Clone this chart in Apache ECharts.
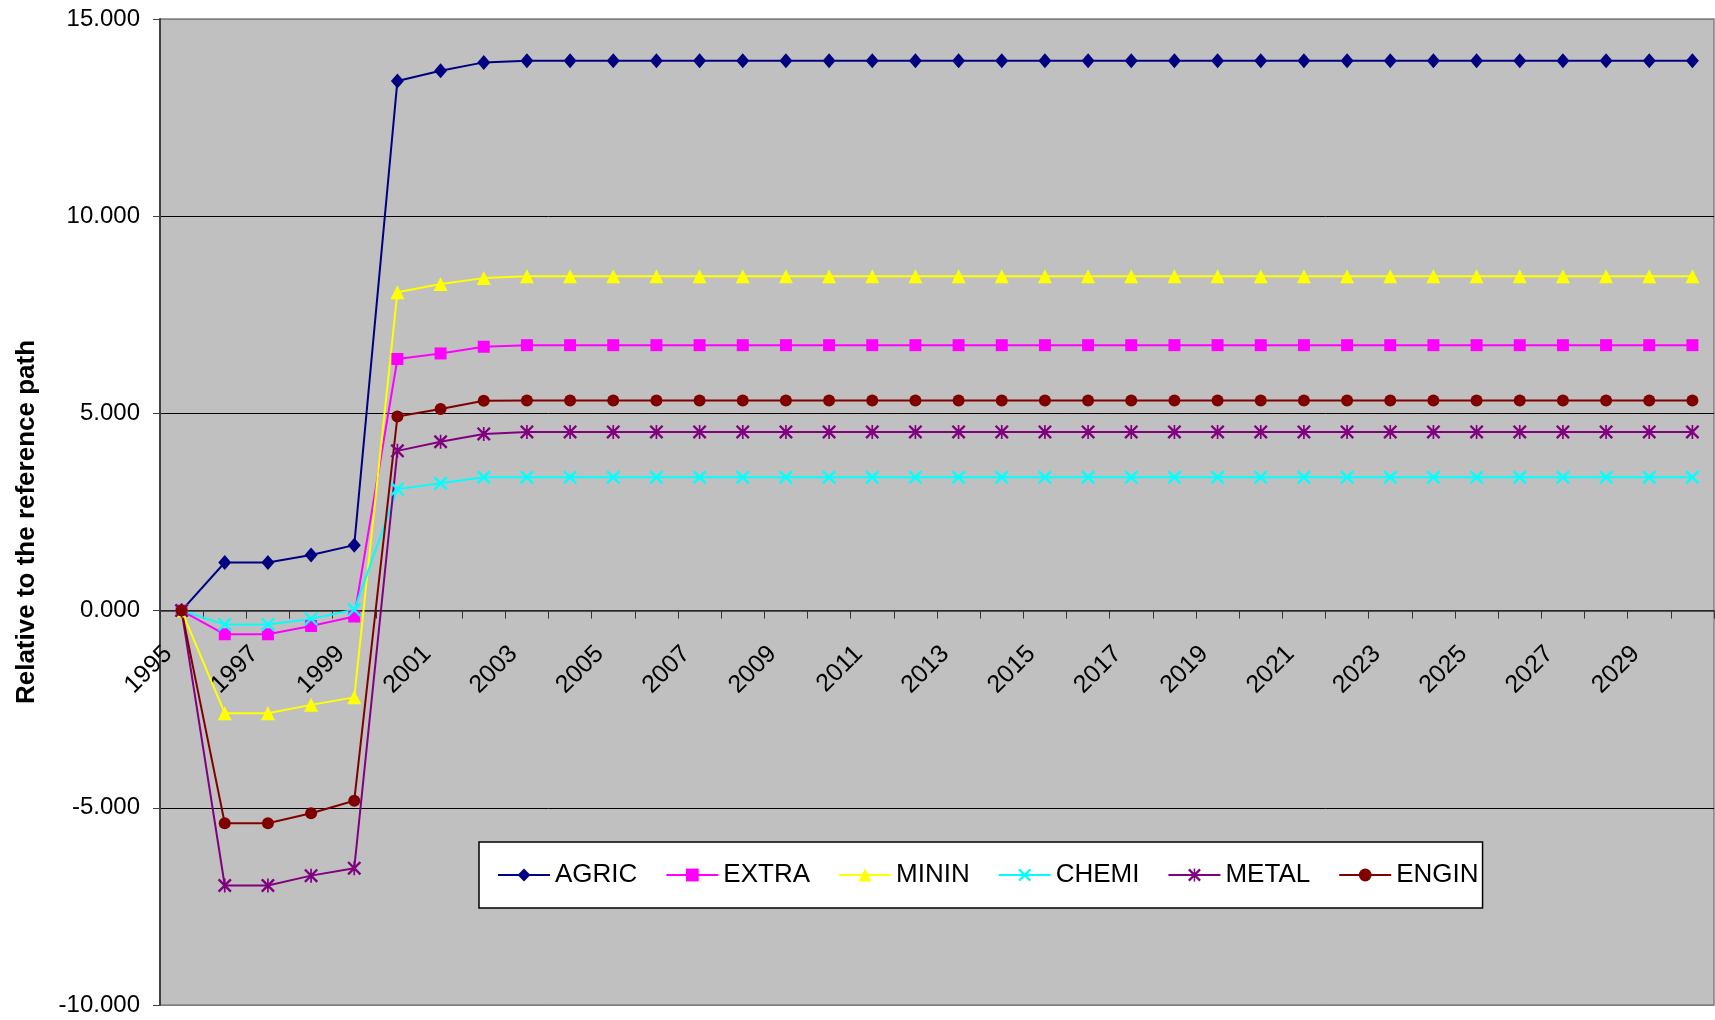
<!DOCTYPE html>
<html>
<head>
<meta charset="UTF-8">
<title>Relative to the reference path</title>
<script src="https://cdn.jsdelivr.net/npm/echarts@6/dist/echarts.min.js"></script>
<style>
	html,body{
		margin:0;
		padding:0;
		background:#fff;
	}
	#main{
		width:1715px;
		height:1020px;
	}
</style>
</head>
<body>
<div id="main"></div>
<script>
	var years = ["1995","1996","1997","1998","1999","2000","2001","2002","2003","2004","2005","2006",
		"2007","2008","2009","2010","2011","2012","2013","2014","2015","2016","2017","2018",
		"2019","2020","2021","2022","2023","2024","2025","2026","2027","2028","2029","2030"];

	var yTicks = [-10, -5, 0, 5, 10, 15];

	var agric = [0, 1.22, 1.22, 1.41, 1.66, 13.43, 13.69, 13.90, 13.94,
		13.94, 13.94, 13.94, 13.94, 13.94, 13.94, 13.94, 13.94, 13.94, 13.94, 13.94, 13.94, 13.94, 13.94,
		13.94, 13.94, 13.94, 13.94, 13.94, 13.94, 13.94, 13.94, 13.94, 13.94, 13.94, 13.94, 13.94];
	var extra = [0, -0.60, -0.60, -0.39, -0.15, 6.38, 6.52, 6.69, 6.73,
		6.73, 6.73, 6.73, 6.73, 6.73, 6.73, 6.73, 6.73, 6.73, 6.73, 6.73, 6.73, 6.73, 6.73,
		6.73, 6.73, 6.73, 6.73, 6.73, 6.73, 6.73, 6.73, 6.73, 6.73, 6.73, 6.73, 6.73];
	var minin = [0, -2.60, -2.60, -2.39, -2.20, 8.07, 8.28, 8.43, 8.48,
		8.48, 8.48, 8.48, 8.48, 8.48, 8.48, 8.48, 8.48, 8.48, 8.48, 8.48, 8.48, 8.48, 8.48,
		8.48, 8.48, 8.48, 8.48, 8.48, 8.48, 8.48, 8.48, 8.48, 8.48, 8.48, 8.48, 8.48];
	var chemi = [0, -0.35, -0.35, -0.21, 0.02, 3.08, 3.23, 3.38, 3.38,
		3.38, 3.38, 3.38, 3.38, 3.38, 3.38, 3.38, 3.38, 3.38, 3.38, 3.38, 3.38, 3.38, 3.38,
		3.38, 3.38, 3.38, 3.38, 3.38, 3.38, 3.38, 3.38, 3.38, 3.38, 3.38, 3.38, 3.38];
	var metal = [0, -6.97, -6.97, -6.72, -6.53, 4.05, 4.28, 4.48, 4.53,
		4.53, 4.53, 4.53, 4.53, 4.53, 4.53, 4.53, 4.53, 4.53, 4.53, 4.53, 4.53, 4.53, 4.53,
		4.53, 4.53, 4.53, 4.53, 4.53, 4.53, 4.53, 4.53, 4.53, 4.53, 4.53, 4.53, 4.53];
	var engin = [0, -5.39, -5.39, -5.14, -4.82, 4.92, 5.11, 5.32, 5.33,
		5.33, 5.33, 5.33, 5.33, 5.33, 5.33, 5.33, 5.33, 5.33, 5.33, 5.33, 5.33, 5.33, 5.33,
		5.33, 5.33, 5.33, 5.33, 5.33, 5.33, 5.33, 5.33, 5.33, 5.33, 5.33, 5.33, 5.33];

	/* excel style x and asterisk markers */
	var xMark = 'path://M0,1.2 L1.2,0 L10,8.8 L8.8,10 Z M8.8,0 L10,1.2 L1.2,10 L0,8.8 Z';
	var starMark = 'path://M0,1.2 L1.2,0 L10,8.8 L8.8,10 Z M8.8,0 L10,1.2 L1.2,10 L0,8.8 Z M4.4,0 L5.6,0 L5.6,10 L4.4,10 Z';

	var font = 'Arial, "Liberation Sans", sans-serif';

	// plot area in px, the x axis sits on the zero line
	var plotTop = 19, plotBottom = 1005;
	var zeroOffset = (plotBottom - plotTop) * (0 - yTicks[0]) / (yTicks[yTicks.length - 1] - yTicks[0]);

	function makeSeries(name, data, color, symbol, size){
		return {
			name: name,
			type: 'line',
			data: data,
			symbol: symbol,
			symbolSize: size,
			showAllSymbol: true,
			lineStyle: {color: color, width: 2},
			itemStyle: {color: color},
			emphasis: {disabled: true}
		};
	}

	var myChart = echarts.init(document.getElementById("main"));
	var option = {
		animation: false,
		grid: {
			left: 160,
			top: plotTop,
			right: 1,
			bottom: 1020 - plotBottom,
			containLabel: false,
			outerBoundsMode: 'none',
			show: true,
			backgroundColor: '#c0c0c0',
			borderColor: '#808080',
			borderWidth: 1.5
		},
		legend: {
			left: 479,
			top: 842,
			itemWidth: 52,
			itemHeight: 16,
			itemGap: 28,
			padding: [20, 4, 20, 18],
			backgroundColor: '#fff',
			borderColor: '#000',
			borderWidth: 1.5,
			textStyle: {fontSize: 26, color: '#000', fontFamily: font},
			data: ['AGRIC', 'EXTRA', 'MININ', 'CHEMI', 'METAL', 'ENGIN']
		},
		xAxis: {
			type: 'category',
			data: years,
			boundaryGap: true,
			offset: -zeroOffset,
			axisLine: {onZero: false, lineStyle: {color: '#333', width: 1.5}},
			axisTick: {show: true, interval: 0, length: 8, lineStyle: {color: '#333'}},
			axisLabel: {
				interval: 1,
				rotate: 45,
				fontSize: 25,
				color: '#000',
				margin: 26,
				padding: [0, 19, 0, 0],
				fontFamily: font
			},
			splitLine: {show: false}
		},
		yAxis: {
			type: 'value',
			min: yTicks[0],
			max: yTicks[yTicks.length - 1],
			interval: 5,
			name: 'Relative to the reference path',
			nameLocation: 'middle',
			nameGap: 120,
			nameTextStyle: {fontSize: 26, fontWeight: 'bold', color: '#000', fontFamily: font, padding: [0, 20, 0, 0]},
			axisLine: {show: true, lineStyle: {color: '#404040', width: 2}},
			axisTick: {show: true, length: 7, lineStyle: {color: '#404040'}},
			axisLabel: {
				fontSize: 24,
				color: '#000',
				margin: 20,
				fontFamily: font,
				formatter: function (v) { return v.toFixed(3); }
			},
			splitLine: {lineStyle: {color: ['#808080', '#000', '#000', '#000', '#000', '#808080'], width: 1}}
		},
		series: [
			makeSeries('AGRIC', agric, '#000080', 'diamond', [13, 15]),
			makeSeries('EXTRA', extra, '#ff00ff', 'rect', 12),
			makeSeries('MININ', minin, '#ffff00', 'triangle', [14, 14]),
			makeSeries('CHEMI', chemi, '#00ffff', xMark, 14),
			makeSeries('METAL', metal, '#800080', starMark, 14),
			makeSeries('ENGIN', engin, '#800000', 'circle', 12)
		]
	};
	myChart.setOption(option);
</script>
</body>
</html>
